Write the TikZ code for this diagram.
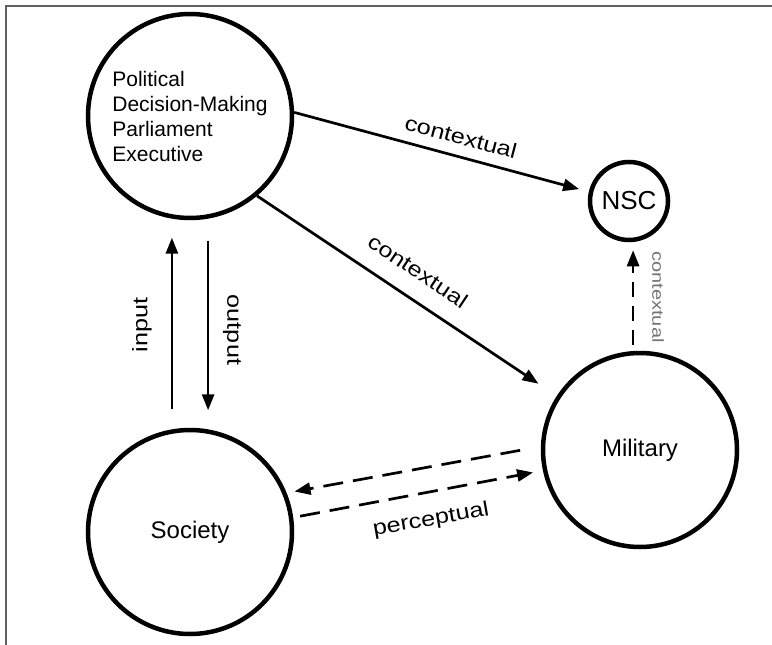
\documentclass[tikz,border=0pt]{standalone}
\usepackage{fontspec}
\setmainfont{Liberation Sans}
\usetikzlibrary{arrows.meta}
\newcommand{\lbltxt}[1]{\scalebox{1.2}[1]{#1}}
\begin{document}
\begin{tikzpicture}[x=1bp,y=-1bp,
  circ/.style={circle,draw=black,line width=4.5bp,inner sep=0pt},
  arr/.style={line width=2.7bp,-{Triangle[length=16bp,width=12bp]}},
  dsh/.style={arr,dash pattern=on 20bp off 10bp},
  lbl/.style={font=\fontsize{21bp}{25bp}\selectfont,inner sep=0pt},
  frame/.style={draw=black!62,line width=2bp}]
\useasboundingbox (0,0) rectangle (772,645);
\draw[frame] (6,645) -- (6,6) -- (772,6);
% nodes
\node[circ,minimum size=204bp,align=left,font=\fontsize{21bp}{25bp}\selectfont] (P) at (190,116)
  {Political\\Decision-Making\\Parliament\\Executive};
\node[circ,minimum size=78bp,font=\fontsize{26bp}{30bp}\selectfont] (N) at (629,201) {NSC};
\node[circ,minimum size=194bp,font=\fontsize{24bp}{28bp}\selectfont] (M) at (640,450) {Military};
\node[circ,minimum size=204bp,font=\fontsize{24bp}{28bp}\selectfont] (S) at (190,532) {Society};
% connectors
\draw[arr,shorten >=10bp] (P.2) -- (N.167);
\draw[arr,shorten >=22bp] (P.-50) -- (M.147);
\draw[arr,shorten <=20bp,shorten >=19bp] (S.100) -- (P.260);
\draw[arr,shorten <=22bp,shorten >=19bp] (P.280) -- (S.80);
\draw[arr,dash pattern=on 15bp off 9bp,shorten <=6bp,shorten >=8bp] (M.94) -- (M.94 |- N.south);
\draw[dsh,shorten <=21bp,shorten >=8bp] (M.178) -- (S.22);
\draw[dsh,shorten <=7bp,shorten >=10bp] (S.8) -- (M.192);
% labels
\node[lbl,rotate=-14.7] (l1) at (461,137) {\lbltxt{contextual}};
\node[lbl,rotate=-33.7] (l2) at (418,271) {\lbltxt{contextual}};
\node[lbl,rotate=90] (l3) at (142,325) {\lbltxt{input}};
\node[lbl,rotate=-90] (l4) at (232,330) {\lbltxt{output}};
\node[lbl,rotate=-90,text=black!55,font=\fontsize{16bp}{19bp}\selectfont] (l5) at (658,297) {\scalebox{1.25}[1]{contextual}};
\node[lbl,rotate=10] (l6) at (431,520) {\lbltxt{perceptual}};
\end{tikzpicture}
\end{document}
